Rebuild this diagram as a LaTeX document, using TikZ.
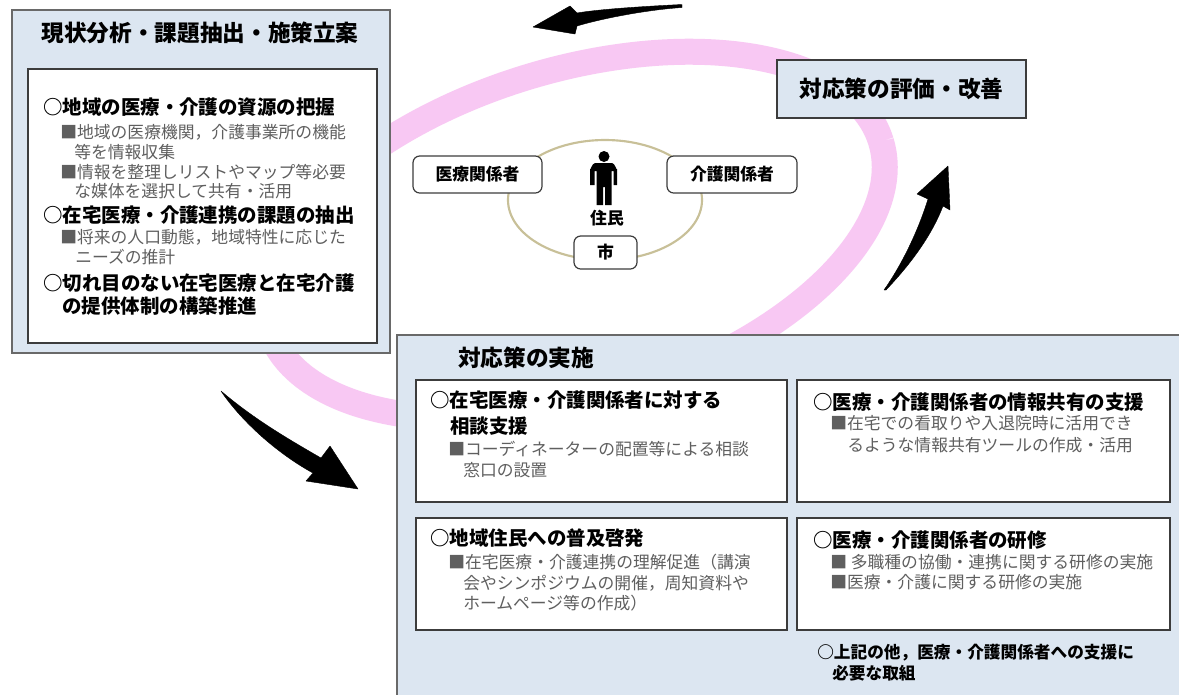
\documentclass[tikz,border=0pt]{standalone}
\usepackage{fontspec}
\newfontfamily\jp{Noto Sans CJK JP}
\newcommand\rkTitle{\jp\bfseries\fontsize{17pt}{20pt}\selectfont}
\newcommand\rkHead{\jp\bfseries\fontsize{14.6pt}{17pt}\selectfont}
\newcommand\rkSub{\jp\fontsize{12.6pt}{15pt}\selectfont}
\newcommand\rkLbl{\jp\bfseries\fontsize{12.6pt}{15pt}\selectfont}
\newcommand\rkFin{\jp\bfseries\fontsize{12.5pt}{15pt}\selectfont}
\definecolor{panelfill}{RGB}{220,230,241}
\definecolor{panelline}{RGB}{105,105,105}
\definecolor{boxline}{RGB}{60,60,60}
\definecolor{bandpink}{RGB}{248,200,243}
\definecolor{ringkhaki}{RGB}{200,192,152}
\definecolor{subgray}{RGB}{95,95,95}
\tikzset{
  panel/.style={draw=panelline, fill=panelfill, line width=1.1pt},
  whitebox/.style={draw=boxline, fill=white, line width=1.1pt},
  ttl/.style={inner sep=0pt, font=\rkTitle},
  hd/.style={anchor=west, inner sep=0pt, font=\rkHead},
  sb/.style={anchor=west, inner sep=0pt, font=\rkSub, text=subgray},
  fin/.style={anchor=west, inner sep=0pt, font=\rkFin},
  rbox/.style={draw=boxline, fill=white, line width=0.9pt, rounded corners=5pt, font=\rkLbl, inner sep=0pt},
  bigarrow/.style={fill=black, draw=black, line width=0.3pt, line join=round}
}
\begin{document}
\begin{tikzpicture}[x=0.75pt,y=-0.75pt]
\useasboundingbox[fill=white] (0,0) rectangle (1179,694);

% pink cycle band
\draw[bandpink, line width=19.5pt] plot[variable=\t, domain=0:360, samples=145, smooth]
  ({575+306*cos(\t)+48.2*sin(\t)}, {235-93.4*cos(\t)+157.7*sin(\t)});

% top-left panel
\draw[panel] (12,10) rectangle (390,353);
\node[ttl] (tltitle) at (200,33) {現状分析・課題抽出・施策立案};
\draw[whitebox] (28,69) rectangle (377,343);
\node[hd] (a1) at (43,107) {○地域の医療・介護の資源の把握};
\node[sb] (a2) at (60,132) {■地域の医療機関，介護事業所の機能};
\node[sb] (a3) at (74,152) {等を情報収集};
\node[sb] (a4) at (60,172) {■情報を整理しリストやマップ等必要};
\node[sb] (a5) at (74,191) {な媒体を選択して共有・活用};
\node[hd] (a6) at (43,215) {○在宅医療・介護連携の課題の抽出};
\node[sb] (a7) at (60,237) {■将来の人口動態，地域特性に応じた};
\node[sb] (a8) at (75,257) {ニーズの推計};
\node[hd] (a9) at (43,283) {○切れ目のない在宅医療と在宅介護};
\node[hd] (a10) at (62,306) {の提供体制の構築推進};

% evaluation box
\draw[panel, draw=boxline] (777,60) rectangle (1026,118);
\node[ttl] (evtitle) at (901.5,89) {対応策の評価・改善};

% center group
\draw[ringkhaki, line width=1.6pt] (605,200) ellipse [x radius=97, y radius=60];
\node[rbox, minimum width=96.75pt, minimum height=27.75pt] (iryo) at (477.5,174.5) {医療関係者};
\node[rbox, minimum width=97.5pt, minimum height=27.75pt] (kaigo) at (732,174.5) {介護関係者};
\node[rbox, minimum width=47.25pt, minimum height=24.75pt] (shi) at (605.5,252.5) {市};
\node[inner sep=0pt, font=\rkLbl] (jumin) at (607,218) {住民};
% person pictogram
\fill[black] (604,156.5) circle [radius=5.5];
\fill[black] (590,185) -- (590,169) to[out=-90,in=180] (595,163) -- (612,163) to[out=0,in=-90] (617,169)
  -- (617,185) -- (613.5,185) -- (613.5,171) -- (611.5,171) -- (611.5,205) -- (605,205) -- (605,187)
  -- (603,187) -- (603,205) -- (596.5,205) -- (596.5,171) -- (594.5,171) -- (594.5,185) -- cycle;

% bottom panel
\draw[panel] (397,335) rectangle (1190,705);
\node[ttl, anchor=west] (b0) at (458,358) {対応策の実施};
\draw[whitebox] (416,380) rectangle (787,502);
\draw[whitebox] (797,380) rectangle (1170,502);
\draw[whitebox] (416,518) rectangle (787,630);
\draw[whitebox] (797,518) rectangle (1170,630);
\node[hd] (c1) at (430,400) {○在宅医療・介護関係者に対する};
\node[hd] (c2) at (450,426) {相談支援};
\node[sb] (c3) at (448,449) {■コーディネーターの配置等による相談};
\node[sb] (c4) at (463,470) {窓口の設置};
\node[hd] (d1) at (813,402) {○医療・介護関係者の情報共有の支援};
\node[sb] (d2) at (830,423) {■在宅での看取りや入退院時に活用でき};
\node[sb] (d3) at (847,445) {るような情報共有ツールの作成・活用};
\node[hd] (e1) at (430,538) {○地域住民への普及啓発};
\node[sb] (e2) at (448,562) {■在宅医療・介護連携の理解促進（講演};
\node[sb] (e3) at (463,583) {会やシンポジウムの開催，周知資料や};
\node[sb] (e4) at (463,603) {ホームページ等の作成）};
\node[hd] (f1) at (813,540) {○医療・介護関係者の研修};
\node[sb] (f2) at (830,562) {■ 多職種の協働・連携に関する研修の実施};
\node[sb] (f3) at (830,582) {■医療・介護に関する研修の実施};
\node[fin] (g1) at (817,653) {○上記の他，医療・介護関係者への支援に};
\node[fin] (g2) at (832,673) {必要な取組};

% black curved arrows
\filldraw[bigarrow] (682,4.5) .. controls (650,6) and (600,9) .. (577,13) -- (570,6) -- (533,27)
  -- (575,34) -- (577,26) .. controls (600,19) and (645,10) .. (682,7.5) -- cycle;
\filldraw[bigarrow] (884,290) .. controls (905,260) and (920,225) .. (928,199) -- (917,194) -- (948,166)
  -- (950,210) -- (943,206) .. controls (930,240) and (905,270) .. (886,290) -- cycle;
\filldraw[bigarrow] (221,391) .. controls (255,420) and (290,440) .. (321,458) -- (330,446) -- (358,489)
  -- (306,481) -- (313,473) .. controls (280,455) and (245,425) .. (223,394) -- cycle;
\end{tikzpicture}
\end{document}
